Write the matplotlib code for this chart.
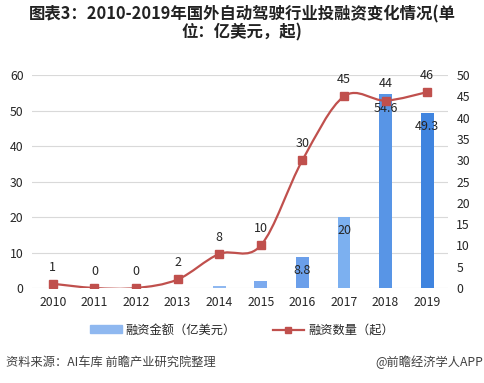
import matplotlib
matplotlib.use("Agg")
import matplotlib.pyplot as plt
from matplotlib.path import Path
import matplotlib.patches as mpatches
from matplotlib.lines import Line2D
import numpy as np

plt.rcParams['font.family'] = ['Noto Sans CJK SC', 'DejaVu Sans']

years = ['2010', '2011', '2012', '2013', '2014', '2015', '2016', '2017', '2018', '2019']
amount = [0, 0, 0, 0.1, 0.6, 1.9, 8.8, 20, 54.6, 49.3]        # 亿美元
amount_labels = {6: '8.8', 7: '20', 8: '54.6', 9: '49.3'}
count = [1, 0, 0, 2, 8, 10, 30, 45, 44, 46]                   # 起
bar_colors = ['#9fc3f2', '#9cc1f2', '#98bef2', '#94bbf1', '#8fb8f0',
              '#7caaee', '#6b9fea', '#7cb0f0', '#5895e6', '#3f84df']

line_color = '#c0504d'
text_color = '#262626'

fig = plt.figure(figsize=(4.84, 3.83), dpi=100)
ax = fig.add_axes([0.0661, 0.248, 0.8595, 0.556])
ax2 = ax.twinx()

x = np.arange(len(years))
ax.bar(x, amount, width=0.31, color=bar_colors, zorder=2)
for i, lab in amount_labels.items():
    ax.annotate(lab, (x[i], amount[i]), xytext=(0, -10), textcoords='offset points',
                ha='center', va='center', fontsize=9, color=text_color, zorder=5)

ax.set_xlim(-0.5, len(years) - 0.5)
ax.set_ylim(0, 60)
ax.set_yticks(range(0, 61, 10))
ax2.set_ylim(0, 50)
ax2.set_yticks(range(0, 51, 5))
ax.set_xticks(x)
ax.set_xticklabels(years)
ax.grid(axis='y', color='#d9d9d9', linewidth=0.8, zorder=0)
ax.set_axisbelow(True)
for a in (ax, ax2):
    for s in a.spines.values():
        s.set_visible(False)
    a.tick_params(length=0, labelsize=8.8, colors=text_color)
ax.tick_params(axis='x', pad=6)
ax.tick_params(axis='y', pad=6)
ax2.tick_params(axis='y', pad=6)

# smoothed line (Excel-style smooth curve through the points)
pts = np.column_stack([x, count]).astype(float)
verts = [pts[0]]
codes = [Path.MOVETO]
n = len(pts)
for i in range(n - 1):
    p0 = pts[i - 1] if i > 0 else pts[i]
    p1, p2 = pts[i], pts[i + 1]
    p3 = pts[i + 2] if i + 2 < n else pts[i + 1]
    c1 = p1 + (p2 - p0) / 6.0
    c2 = p2 - (p3 - p1) / 6.0
    verts += [c1, c2, p2]
    codes += [Path.CURVE4] * 3
ax2.add_patch(mpatches.PathPatch(Path(verts, codes), facecolor='none',
                                 edgecolor=line_color, linewidth=1.6, zorder=3))
ax2.plot(x, count, linestyle='none', marker='s', markersize=6,
         color=line_color, zorder=4)
for i, v in enumerate(count):
    ax2.annotate(str(v), (x[i], v), xytext=(0, 12), textcoords='offset points',
                 ha='center', va='center', fontsize=9, color=text_color)

fig.text(0.5, 0.962, '图表3：2010-2019年国外自动驾驶行业投融资变化情况(单', ha='center', va='center',
         fontsize=11.8, fontweight='bold', color='#222222')
fig.text(0.5, 0.915, '位：亿美元，起)', ha='center', va='center',
         fontsize=11.8, fontweight='bold', color='#222222')

handles = [mpatches.Patch(color='#8fb8f0'),
           Line2D([0], [0], color=line_color, linewidth=1.6, marker='s', markersize=5)]
fig.legend(handles, ['融资金额（亿美元）', '融资数量（起）'], loc='center',
           bbox_to_anchor=(0.5, 0.138), ncol=2, frameon=False, fontsize=8.8,
           handlelength=2.6, handleheight=0.6, columnspacing=3.0, handletextpad=0.3,
           labelcolor=text_color)

fig.text(0.012, 0.055, '资料来源：AI车库 前瞻产业研究院整理', ha='left', va='center',
         fontsize=8.8, color='#404040')
fig.text(0.998, 0.055, '@前瞻经济学人APP', ha='right', va='center',
         fontsize=8.8, color='#404040')

fig.savefig('out.png', dpi=100)
